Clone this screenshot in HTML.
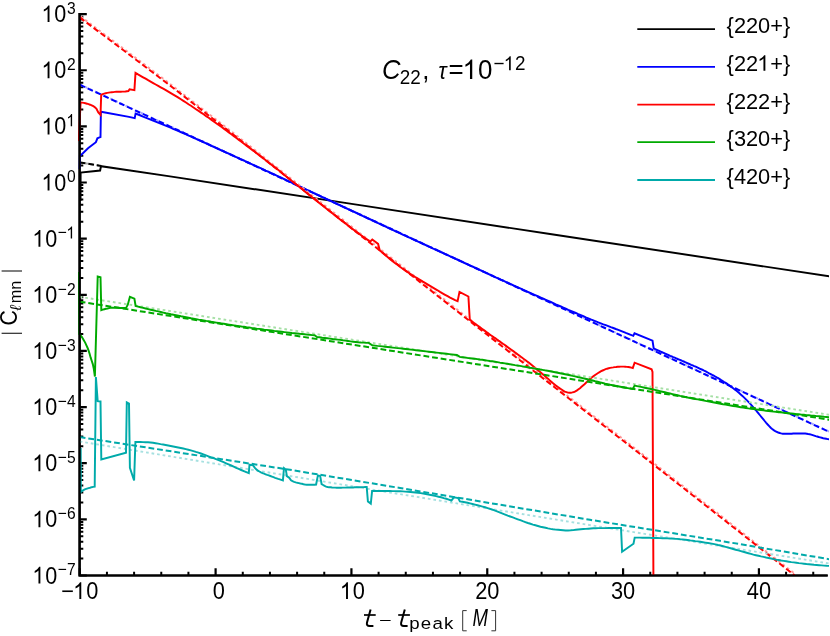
<!DOCTYPE html>
<html><head><meta charset="utf-8"><title>C22 mode amplitudes</title>
<style>html,body{margin:0;padding:0;background:#fff;}svg{display:block;will-change:transform;}text{font-family:"Liberation Sans",sans-serif;fill:#000;}</style></head><body>
<svg width="830" height="636" viewBox="0 0 830 636">
<rect width="830" height="636" fill="#fff"/>
<defs><clipPath id="clip"><rect x="78.0" y="0" width="751.0" height="575.9"/></clipPath></defs>
<g stroke="#000" fill="none" stroke-linecap="butt">
<path d="M79.6 13.1 V575.5 H827.7" stroke-width="2.2" stroke-linejoin="miter"/>
<path d="M79.6 14.10 h7.2 M79.6 70.24 h7.2 M79.6 126.38 h7.2 M79.6 182.52 h7.2 M79.6 238.66 h7.2 M79.6 294.80 h7.2 M79.6 350.94 h7.2 M79.6 407.08 h7.2 M79.6 463.22 h7.2 M79.6 519.36 h7.2 M79.6 575.50 h7.2" stroke-width="2.2"/>
<path d="M79.6 53.34 h3.7 M79.6 43.45 h3.7 M79.6 36.44 h3.7 M79.6 31.00 h3.7 M79.6 26.55 h3.7 M79.6 22.80 h3.7 M79.6 19.54 h3.7 M79.6 16.67 h3.7 M79.6 109.48 h3.7 M79.6 99.59 h3.7 M79.6 92.58 h3.7 M79.6 87.14 h3.7 M79.6 82.69 h3.7 M79.6 78.94 h3.7 M79.6 75.68 h3.7 M79.6 72.81 h3.7 M79.6 165.62 h3.7 M79.6 155.73 h3.7 M79.6 148.72 h3.7 M79.6 143.28 h3.7 M79.6 138.83 h3.7 M79.6 135.08 h3.7 M79.6 131.82 h3.7 M79.6 128.95 h3.7 M79.6 221.76 h3.7 M79.6 211.87 h3.7 M79.6 204.86 h3.7 M79.6 199.42 h3.7 M79.6 194.97 h3.7 M79.6 191.22 h3.7 M79.6 187.96 h3.7 M79.6 185.09 h3.7 M79.6 277.90 h3.7 M79.6 268.01 h3.7 M79.6 261.00 h3.7 M79.6 255.56 h3.7 M79.6 251.11 h3.7 M79.6 247.36 h3.7 M79.6 244.10 h3.7 M79.6 241.23 h3.7 M79.6 334.04 h3.7 M79.6 324.15 h3.7 M79.6 317.14 h3.7 M79.6 311.70 h3.7 M79.6 307.25 h3.7 M79.6 303.50 h3.7 M79.6 300.24 h3.7 M79.6 297.37 h3.7 M79.6 390.18 h3.7 M79.6 380.29 h3.7 M79.6 373.28 h3.7 M79.6 367.84 h3.7 M79.6 363.39 h3.7 M79.6 359.64 h3.7 M79.6 356.38 h3.7 M79.6 353.51 h3.7 M79.6 446.32 h3.7 M79.6 436.43 h3.7 M79.6 429.42 h3.7 M79.6 423.98 h3.7 M79.6 419.53 h3.7 M79.6 415.78 h3.7 M79.6 412.52 h3.7 M79.6 409.65 h3.7 M79.6 502.46 h3.7 M79.6 492.57 h3.7 M79.6 485.56 h3.7 M79.6 480.12 h3.7 M79.6 475.67 h3.7 M79.6 471.92 h3.7 M79.6 468.66 h3.7 M79.6 465.79 h3.7 M79.6 558.60 h3.7 M79.6 548.71 h3.7 M79.6 541.70 h3.7 M79.6 536.26 h3.7 M79.6 531.81 h3.7 M79.6 528.06 h3.7 M79.6 524.80 h3.7 M79.6 521.93 h3.7" stroke-width="2"/>
<path d="M79.77 575.5 v-7.3 M215.60 575.5 v-7.3 M351.43 575.5 v-7.3 M487.26 575.5 v-7.3 M623.09 575.5 v-7.3 M758.92 575.5 v-7.3" stroke-width="2.2"/>
<path d="M106.94 575.5 v-3.7 M134.10 575.5 v-3.7 M161.27 575.5 v-3.7 M188.43 575.5 v-3.7 M242.77 575.5 v-3.7 M269.93 575.5 v-3.7 M297.10 575.5 v-3.7 M324.26 575.5 v-3.7 M378.60 575.5 v-3.7 M405.76 575.5 v-3.7 M432.93 575.5 v-3.7 M460.09 575.5 v-3.7 M514.43 575.5 v-3.7 M541.59 575.5 v-3.7 M568.76 575.5 v-3.7 M595.92 575.5 v-3.7 M650.26 575.5 v-3.7 M677.42 575.5 v-3.7 M704.59 575.5 v-3.7 M731.75 575.5 v-3.7 M786.09 575.5 v-3.7 M813.25 575.5 v-3.7" stroke-width="2"/>
</g>
<g clip-path="url(#clip)" fill="none" stroke-linejoin="miter" stroke-miterlimit="3">
<path d="M79.7 162.4 L101.3 165.9" stroke="#a8a8a8" stroke-width="2.00" stroke-dasharray="2.7 2.9"/>
<path d="M79.7 162.4 L101.3 165.9" stroke="#000000" stroke-width="2.00" stroke-dasharray="5.8 2.9"/>
<path d="M80.5 201.0 L80.6 172.6 L100.1 170.5 L101.0 166.2 L170.0 176.4 L350.0 203.6 L550.0 234.0 L829.2 276.3" stroke="#000000" stroke-width="1.95"/>
<path d="M79.7 84.4 L829.2 431.6" stroke="#a8a8ff" stroke-width="2.00" stroke-dasharray="2.7 2.9"/>
<path d="M79.7 84.7 L829.2 431.9" stroke="#0000ff" stroke-width="2.00" stroke-dasharray="5.8 2.9"/>
<path d="M79.6 169.0 L79.9 155.5 L81.4 154.8 L88.0 148.2 L95.9 142.2 L97.4 138.3 L98.9 137.6 L100.5 137.1 L100.9 111.7 L129.0 116.9 L134.7 118.1 L135.6 113.5 L138.1 114.5 L140.6 115.5 L143.1 116.6 L145.6 117.6 L148.1 118.6 L150.6 119.6 L153.1 120.7 L155.6 121.7 L158.1 122.7 L160.6 123.7 L163.1 124.7 L165.6 125.7 L168.1 126.7 L170.6 127.7 L173.1 128.8 L175.6 129.8 L178.1 130.9 L180.6 132.0 L183.1 133.1 L185.6 134.2 L188.1 135.3 L190.6 136.4 L193.1 137.5 L195.6 138.6 L198.1 139.8 L200.6 140.9 L203.1 142.0 L205.6 143.2 L208.1 144.3 L210.6 145.5 L213.1 146.6 L215.6 147.7 L218.1 148.9 L220.6 150.0 L223.1 151.1 L225.6 152.3 L228.1 153.4 L230.6 154.5 L233.1 155.7 L235.6 156.8 L238.1 157.9 L240.6 159.1 L243.1 160.2 L245.6 161.4 L248.1 162.5 L250.6 163.7 L253.1 164.8 L255.6 165.9 L258.1 167.1 L260.7 168.2 L263.2 169.4 L265.7 170.6 L268.2 171.7 L270.7 172.9 L273.2 174.0 L275.7 175.2 L278.2 176.4 L280.7 177.5 L283.2 178.7 L285.7 179.9 L288.2 181.1 L290.7 182.2 L293.2 183.4 L295.7 184.6 L298.2 185.8 L300.7 187.0 L303.2 188.1 L305.7 189.3 L308.2 190.5 L310.7 191.7 L313.2 192.8 L315.7 194.0 L318.2 195.2 L320.7 196.3 L323.2 197.5 L325.7 198.7 L328.2 199.8 L330.7 201.0 L333.2 202.2 L335.7 203.3 L338.2 204.5 L340.7 205.7 L343.2 206.8 L345.7 208.0 L348.2 209.2 L350.7 210.3 L353.2 211.5 L355.7 212.7 L358.2 213.8 L360.7 215.0 L363.2 216.2 L365.7 217.3 L368.2 218.5 L370.7 219.7 L373.2 220.8 L375.7 222.0 L378.2 223.2 L380.7 224.3 L383.2 225.5 L385.7 226.6 L388.2 227.8 L390.7 229.0 L393.2 230.1 L395.7 231.3 L398.2 232.4 L400.7 233.6 L403.2 234.8 L405.7 235.9 L408.2 237.1 L410.7 238.2 L413.2 239.4 L415.7 240.5 L418.2 241.7 L420.7 242.8 L423.2 244.0 L425.7 245.1 L428.2 246.3 L430.7 247.4 L433.2 248.6 L435.7 249.7 L438.2 250.9 L440.7 252.0 L443.2 253.2 L445.7 254.3 L448.2 255.4 L450.7 256.6 L453.2 257.7 L455.7 258.9 L458.2 260.0 L460.7 261.2 L463.2 262.3 L465.7 263.5 L468.2 264.6 L470.7 265.8 L473.2 266.9 L475.7 268.0 L478.2 269.2 L480.7 270.3 L483.2 271.5 L485.7 272.6 L488.2 273.8 L490.7 275.0 L493.2 276.1 L495.7 277.3 L498.2 278.4 L500.7 279.6 L503.2 280.7 L505.7 281.9 L508.2 283.0 L510.8 284.2 L513.3 285.3 L515.8 286.5 L518.3 287.6 L520.8 288.7 L523.3 289.9 L525.8 291.0 L528.3 292.1 L530.8 293.2 L533.3 294.3 L535.8 295.4 L538.3 296.5 L540.8 297.6 L543.3 298.7 L545.8 299.8 L548.3 300.9 L550.8 302.0 L553.3 303.1 L555.8 304.3 L558.3 305.4 L560.8 306.5 L563.3 307.6 L565.8 308.7 L568.3 309.8 L570.8 310.8 L573.3 311.9 L575.8 313.0 L578.3 314.1 L580.8 315.1 L583.3 316.2 L585.8 317.3 L588.3 318.3 L590.8 319.4 L593.3 320.4 L595.8 321.4 L598.3 322.4 L600.8 323.3 L603.3 324.3 L605.8 325.2 L608.3 326.1 L610.8 327.1 L613.3 328.0 L615.8 329.0 L618.3 329.9 L620.8 330.9 L623.3 331.9 L625.8 332.9 L628.3 333.8 L630.8 334.8 L633.3 335.8 L634.5 333.3 L652.5 340.6 L653.7 348.4 L655.2 349.1 L656.7 349.8 L658.2 350.5 L659.7 351.1 L661.2 351.8 L662.7 352.5 L664.2 353.1 L665.7 353.8 L667.2 354.5 L668.7 355.1 L670.2 355.8 L671.7 356.4 L673.2 357.1 L674.7 357.7 L676.2 358.3 L677.7 359.0 L679.2 359.6 L680.7 360.2 L682.2 360.9 L683.7 361.5 L685.2 362.2 L686.7 362.8 L688.2 363.5 L689.7 364.1 L691.2 364.8 L692.7 365.4 L694.2 366.1 L695.7 366.7 L697.2 367.4 L698.7 368.1 L700.2 368.8 L701.7 369.5 L703.2 370.2 L704.7 371.0 L706.2 371.7 L707.7 372.5 L709.2 373.3 L710.7 374.0 L712.2 374.9 L713.7 375.7 L715.2 376.5 L716.7 377.4 L718.2 378.2 L719.7 379.1 L721.2 380.1 L722.7 381.0 L724.2 382.0 L725.7 382.9 L727.2 383.9 L728.7 385.0 L730.2 386.1 L731.7 387.2 L733.2 388.3 L734.7 389.4 L736.2 390.6 L737.7 391.8 L739.2 393.1 L740.7 394.4 L742.2 395.7 L743.7 397.1 L745.2 398.6 L746.7 400.1 L748.2 401.6 L749.7 403.2 L751.2 404.9 L752.7 406.6 L754.2 408.3 L755.7 410.0 L757.2 411.8 L758.7 413.7 L760.2 415.5 L761.7 417.3 L763.2 419.1 L764.7 421.0 L766.2 422.8 L767.7 424.5 L769.2 426.1 L770.7 427.7 L772.2 429.0 L773.7 430.1 L775.2 431.1 L776.7 431.8 L778.2 432.5 L779.7 433.0 L781.2 433.4 L782.7 433.7 L784.2 433.8 L785.7 433.8 L787.2 433.8 L788.7 433.8 L790.2 433.8 L791.7 433.7 L793.2 433.5 L794.7 433.4 L796.2 433.4 L797.7 433.4 L799.2 433.4 L800.7 433.4 L802.2 433.4 L803.7 433.4 L805.2 433.5 L806.7 433.7 L808.2 434.0 L809.7 434.2 L811.2 434.6 L812.7 435.1 L814.2 435.6 L815.7 436.1 L817.2 436.5 L818.7 437.0 L820.2 437.4 L821.7 437.8 L823.2 438.2 L824.7 438.5 L826.2 438.8 L827.7 439.1 L829.2 439.4" stroke="#0000ff" stroke-width="1.95"/>
<path d="M80.6 16.5 L125.1 49.9 L167.3 81.8 L230.9 131.1 L310.1 193.8 L356.4 230.5 L469.0 318.9 L630.9 445.2 L795.5 574.4" stroke="#ff9a9a" stroke-width="2.00" stroke-dasharray="2.7 2.9"/>
<path d="M79.7 17.4 L124.2 50.8 L166.4 82.7 L230.0 132.0 L309.2 194.7 L355.5 231.4 L468.1 319.8 L630.0 446.1 L794.6 575.3" stroke="#ff0000" stroke-width="2.00" stroke-dasharray="5.8 2.9"/>
<path d="M78.7 141.0 L80.6 102.4 L80.6 102.4 L82.2 102.6 L83.8 102.9 L85.4 103.3 L87.0 103.7 L88.5 104.2 L90.1 104.7 L91.7 105.4 L93.3 106.2 L94.9 107.3 L96.5 108.8 L98.3 112.4 L100.5 114.8 L101.2 94.9 L102.7 94.1 L104.2 93.6 L105.7 93.2 L107.2 92.9 L108.8 92.6 L110.3 92.4 L111.8 92.2 L113.3 92.1 L114.8 91.9 L116.3 91.8 L117.8 91.7 L119.3 91.7 L120.8 91.7 L122.4 91.6 L123.9 91.6 L125.4 91.5 L126.9 91.3 L128.4 91.1 L129.6 89.3 L134.4 90.1 L135.5 72.9 L138.0 74.4 L140.5 75.8 L143.1 77.3 L145.6 78.7 L148.1 80.2 L150.6 81.6 L153.2 83.1 L155.7 84.5 L158.2 85.9 L160.7 87.3 L163.2 88.7 L165.8 90.1 L168.3 91.6 L170.8 93.1 L173.3 94.6 L175.9 96.2 L178.4 97.7 L180.9 99.3 L183.4 100.9 L186.0 102.5 L188.5 104.2 L191.0 105.8 L193.5 107.5 L196.0 109.2 L198.6 110.9 L201.1 112.6 L203.6 114.3 L206.1 116.1 L208.7 117.8 L211.2 119.6 L213.7 121.4 L216.2 123.2 L218.7 125.0 L221.3 126.8 L223.8 128.6 L226.3 130.5 L228.8 132.4 L231.4 134.2 L233.9 136.1 L236.4 138.0 L238.9 139.9 L241.4 141.8 L244.0 143.7 L246.5 145.6 L249.0 147.5 L251.5 149.4 L254.1 151.3 L256.6 153.2 L259.1 155.1 L261.6 157.0 L264.2 159.0 L266.7 160.9 L269.2 162.9 L271.7 164.9 L274.2 166.8 L276.8 168.8 L279.3 170.8 L281.8 172.8 L284.3 174.9 L286.9 176.9 L289.4 178.9 L291.9 180.9 L294.4 183.0 L296.9 185.0 L299.5 187.1 L302.0 189.1 L304.5 191.2 L307.0 193.2 L309.6 195.3 L312.1 197.3 L314.6 199.3 L317.1 201.3 L319.6 203.3 L322.2 205.3 L324.7 207.3 L327.2 209.3 L329.7 211.3 L332.3 213.3 L334.8 215.2 L337.3 217.2 L339.8 219.2 L342.4 221.1 L344.9 223.1 L347.4 225.0 L349.9 226.9 L352.4 228.9 L355.0 230.8 L357.5 232.6 L360.0 234.5 L362.5 236.3 L365.1 238.1 L367.6 239.9 L370.1 241.7 L372.3 239.5 L378.1 243.9 L379.8 250.4 L382.3 252.6 L384.8 254.7 L387.3 256.8 L389.8 258.9 L392.3 260.9 L394.9 262.9 L397.4 264.8 L399.9 266.7 L402.4 268.5 L404.9 270.2 L407.4 271.9 L409.9 273.6 L412.4 275.2 L414.9 276.8 L417.4 278.3 L420.0 279.8 L422.5 281.4 L425.0 282.8 L427.5 284.3 L430.0 285.8 L432.5 287.3 L435.0 288.8 L437.5 290.3 L440.0 291.9 L442.5 293.3 L445.1 294.8 L447.6 296.2 L450.1 297.6 L452.6 298.8 L455.1 300.1 L457.6 301.2 L459.5 291.9 L468.4 296.5 L469.8 319.8 L471.3 320.9 L472.8 322.0 L474.3 323.2 L475.8 324.3 L477.3 325.4 L478.9 326.5 L480.4 327.6 L481.9 328.7 L483.4 329.8 L484.9 330.9 L486.4 332.0 L487.9 333.1 L489.4 334.2 L490.9 335.3 L492.4 336.3 L493.9 337.4 L495.5 338.4 L497.0 339.5 L498.5 340.6 L500.0 341.6 L501.5 342.7 L503.0 343.8 L504.5 344.8 L506.0 345.9 L507.5 347.0 L509.0 348.1 L510.6 349.2 L512.1 350.3 L513.6 351.4 L515.1 352.5 L516.6 353.6 L518.1 354.7 L519.6 355.8 L521.1 356.9 L522.6 358.1 L524.1 359.2 L525.6 360.3 L527.2 361.5 L528.7 362.6 L530.2 363.8 L531.7 365.0 L533.2 366.2 L534.7 367.4 L536.2 368.7 L537.7 370.0 L539.2 371.2 L540.7 372.5 L542.2 373.8 L543.8 375.1 L545.3 376.4 L546.8 377.8 L548.3 379.1 L549.8 380.4 L551.3 381.7 L552.8 383.0 L554.3 384.2 L555.8 385.4 L557.3 386.6 L558.8 387.7 L560.4 388.7 L561.9 389.7 L563.4 390.8 L564.9 391.6 L566.4 392.1 L567.9 392.6 L569.4 392.8 L570.9 392.7 L572.4 392.4 L573.9 392.0 L575.4 391.4 L577.0 390.4 L578.5 389.3 L580.0 388.2 L581.5 386.8 L583.0 385.5 L584.5 384.2 L586.0 382.8 L587.5 381.4 L589.0 380.0 L590.5 378.6 L592.0 377.3 L593.6 376.1 L595.1 375.0 L596.6 374.0 L598.1 373.0 L599.6 372.1 L601.1 371.2 L602.6 370.5 L604.1 369.8 L605.6 369.2 L607.1 368.7 L608.7 368.3 L610.2 367.9 L611.7 367.6 L613.2 367.4 L614.7 367.1 L616.2 367.0 L617.7 366.8 L619.2 366.7 L620.7 366.6 L622.2 366.6 L623.7 366.6 L625.3 366.7 L626.8 366.9 L628.3 367.0 L629.8 367.3 L631.3 367.6 L632.8 368.0 L634.6 362.7 L651.6 369.3 L652.5 372.0 L653.4 575.3" stroke="#ff0000" stroke-width="1.95"/>
<path d="M79.7 296.8 L829.2 414.8" stroke="#a6e0a6" stroke-width="1.90" stroke-dasharray="2.7 2.9"/>
<path d="M79.7 301.7 L829.2 419.7" stroke="#00aa00" stroke-width="2.00" stroke-dasharray="5.8 2.9"/>
<path d="M78.9 272.0 L79.2 334.0 L81.0 335.8 L82.1 337.3 L83.1 339.1 L84.2 340.9 L85.3 342.9 L86.3 345.1 L87.4 347.5 L88.5 350.4 L89.6 353.8 L90.6 357.4 L91.7 360.8 L92.8 364.1 L93.8 368.8 L94.9 376.5 L97.7 276.6 L100.5 277.3 L101.3 310.1 L101.3 310.1 L102.8 309.6 L104.4 309.2 L105.9 308.8 L107.5 308.5 L109.0 308.1 L110.6 307.8 L112.1 307.7 L113.7 307.7 L115.2 307.7 L116.7 307.8 L118.3 307.8 L119.8 307.9 L121.4 307.9 L122.9 308.0 L124.5 308.0 L126.0 308.1 L127.8 304.7 L129.9 296.8 L134.4 298.7 L135.6 306.0 L135.6 306.0 L138.1 306.6 L140.6 307.3 L143.2 307.9 L145.7 308.5 L148.2 309.1 L150.7 309.7 L153.2 310.3 L155.8 310.9 L158.3 311.4 L160.8 312.0 L163.3 312.6 L165.9 313.2 L168.4 313.7 L170.9 314.3 L173.4 314.8 L175.9 315.3 L178.5 315.8 L181.0 316.3 L183.5 316.7 L186.0 317.2 L188.5 317.7 L191.1 318.2 L193.6 318.6 L196.1 319.1 L198.6 319.6 L201.1 320.0 L203.7 320.4 L206.2 320.9 L208.7 321.3 L211.2 321.8 L213.8 322.2 L216.3 322.6 L218.8 323.0 L221.3 323.4 L223.8 323.8 L226.4 324.2 L228.9 324.6 L231.4 325.0 L233.9 325.4 L236.4 325.8 L239.0 326.1 L241.5 326.5 L244.0 326.8 L246.5 327.2 L249.1 327.5 L251.6 327.9 L254.1 328.2 L256.6 328.6 L259.1 328.9 L261.7 329.2 L264.2 329.6 L266.7 329.9 L269.2 330.2 L271.7 330.5 L274.3 330.9 L276.8 331.2 L279.3 331.5 L281.8 331.8 L284.3 332.1 L286.9 332.4 L289.4 332.7 L291.9 333.0 L294.4 333.2 L297.0 333.5 L299.5 333.8 L302.0 334.0 L304.5 334.3 L307.0 334.6 L309.6 334.8 L312.1 335.1 L314.6 335.3 L317.0 337.0 L319.6 337.3 L322.2 337.7 L324.8 338.0 L327.3 338.3 L329.9 338.6 L332.5 339.0 L335.1 339.3 L337.7 339.6 L340.3 339.9 L342.9 340.3 L345.4 340.6 L348.0 341.0 L350.6 341.4 L353.2 341.7 L355.8 342.0 L358.4 342.3 L360.9 342.5 L363.5 342.6 L366.1 342.8 L368.7 342.9 L372.3 345.3 L374.9 345.6 L377.4 345.9 L380.0 346.1 L382.6 346.4 L385.1 346.7 L387.7 347.0 L390.2 347.3 L392.8 347.6 L395.4 347.9 L397.9 348.1 L400.5 348.4 L403.1 348.7 L405.6 349.0 L408.2 349.3 L410.8 349.6 L413.3 349.9 L415.9 350.2 L418.4 350.5 L421.0 350.8 L423.6 351.1 L426.1 351.4 L428.7 351.7 L431.3 352.0 L433.8 352.3 L436.4 352.6 L439.0 352.9 L441.5 353.2 L444.1 353.5 L446.6 353.8 L449.2 354.1 L451.8 354.4 L454.3 354.7 L456.9 355.0 L459.8 356.9 L462.3 357.2 L464.8 357.5 L467.3 357.9 L469.8 358.2 L472.3 358.5 L474.8 358.8 L477.4 359.1 L479.9 359.5 L482.4 359.8 L484.9 360.2 L487.4 360.6 L489.9 361.0 L492.4 361.3 L494.9 361.7 L497.4 362.1 L499.9 362.6 L502.4 363.0 L504.9 363.4 L507.4 363.8 L509.9 364.2 L512.5 364.6 L515.0 365.1 L517.5 365.5 L520.0 365.9 L522.5 366.4 L525.0 366.8 L527.5 367.2 L530.0 367.7 L532.5 368.1 L535.0 368.6 L537.5 369.0 L540.0 369.5 L542.5 369.9 L545.0 370.4 L547.6 370.8 L550.1 371.3 L552.6 371.8 L555.1 372.3 L557.6 372.8 L560.1 373.3 L562.6 373.8 L565.1 374.3 L567.6 374.8 L570.1 375.3 L572.6 375.9 L575.1 376.4 L577.6 377.0 L580.1 377.5 L582.7 378.1 L585.2 378.7 L587.7 379.3 L590.2 379.9 L592.7 380.5 L595.2 381.2 L597.7 381.8 L600.2 382.4 L602.7 383.0 L605.2 383.6 L607.7 384.1 L610.2 384.7 L612.7 385.2 L615.2 385.7 L617.8 386.2 L620.3 386.7 L622.8 387.2 L625.3 387.7 L627.8 388.1 L630.3 388.6 L632.8 389.0 L634.6 385.6 L637.1 386.1 L639.7 386.6 L642.2 387.1 L644.7 387.7 L647.2 388.2 L649.8 388.7 L652.3 389.3 L654.8 389.9 L657.3 390.5 L659.9 391.1 L662.4 391.7 L664.9 392.3 L667.5 392.9 L670.0 393.5 L672.5 394.1 L675.0 394.7 L677.6 395.3 L680.1 395.9 L682.6 396.4 L685.1 396.9 L687.7 397.5 L690.2 398.0 L692.7 398.5 L695.3 399.0 L697.8 399.4 L700.3 399.9 L702.8 400.4 L705.4 400.9 L707.9 401.4 L710.4 401.8 L712.9 402.3 L715.5 402.8 L718.0 403.3 L720.5 403.7 L723.1 404.2 L725.6 404.6 L728.1 405.1 L730.6 405.5 L733.2 406.0 L735.7 406.4 L738.2 406.8 L740.7 407.2 L743.3 407.6 L745.8 408.0 L748.3 408.4 L750.9 408.7 L753.4 409.1 L755.9 409.4 L758.4 409.8 L761.0 410.1 L763.5 410.4 L766.0 410.7 L768.5 411.0 L771.1 411.3 L773.6 411.6 L776.1 411.9 L778.7 412.2 L781.2 412.4 L783.7 412.7 L786.2 413.0 L788.8 413.3 L791.3 413.5 L793.8 413.8 L796.3 414.1 L798.9 414.3 L801.4 414.6 L803.9 414.8 L806.5 415.1 L809.0 415.3 L811.5 415.6 L814.0 415.8 L816.6 416.1 L819.1 416.3 L821.6 416.5 L824.1 416.8 L826.7 417.0 L829.2 417.2" stroke="#00aa00" stroke-width="1.95"/>
<path d="M79.7 441.5 L282.8 474.8 L390.0 492.5 L590.0 525.1 L829.2 563.5" stroke="#a6e0e0" stroke-width="1.90" stroke-dasharray="2.7 2.9"/>
<path d="M79.7 437.1 L290.0 469.8 L400.0 488.0 L590.0 519.8 L720.0 540.8 L829.2 559.2" stroke="#00aaaa" stroke-width="2.00" stroke-dasharray="5.8 2.9"/>
<path d="M80.7 448.0 L80.8 492.0 L80.8 492.0 L82.3 490.8 L83.9 489.9 L85.4 489.2 L87.0 488.6 L88.5 488.1 L90.1 487.7 L91.6 487.2 L93.2 486.9 L94.7 486.6 L95.9 377.1 L97.7 401.2 L100.5 401.5 L101.3 459.4 L126.0 452.7 L126.8 402.4 L129.0 403.6 L129.9 467.8 L134.1 480.5 L135.4 441.9 L137.9 441.9 L140.4 442.0 L143.0 442.1 L145.5 442.2 L148.0 442.3 L150.5 442.5 L153.0 442.8 L155.6 443.2 L158.1 443.6 L160.6 444.1 L163.1 444.5 L165.6 445.0 L168.2 445.5 L170.7 446.0 L173.2 446.5 L175.7 447.0 L178.2 447.5 L180.8 448.0 L183.3 448.5 L185.8 449.1 L188.3 449.7 L190.8 450.4 L193.4 451.1 L195.9 451.9 L198.4 452.6 L200.9 453.5 L203.4 454.4 L206.0 455.3 L208.5 456.3 L211.0 457.3 L213.5 458.2 L216.0 459.2 L218.6 460.2 L221.1 461.2 L223.6 462.2 L226.1 463.3 L228.6 464.4 L231.2 465.5 L233.7 466.6 L236.2 467.8 L238.7 468.9 L241.2 470.0 L243.8 471.1 L246.3 472.1 L248.8 473.1 L249.5 464.7 L253.1 465.4 L253.1 465.4 L254.7 467.6 L256.2 469.4 L257.8 470.6 L259.4 471.5 L260.9 472.3 L262.5 473.1 L264.1 473.7 L265.6 474.3 L267.2 474.9 L268.8 475.4 L270.4 476.0 L271.9 476.6 L273.5 477.2 L275.1 477.8 L276.6 478.3 L278.2 478.9 L279.8 479.4 L281.3 479.9 L282.9 480.4 L284.0 468.2 L285.8 469.6 L286.9 476.1 L289.4 477.9 L289.4 477.9 L291.0 480.3 L292.5 481.2 L294.1 481.9 L295.7 482.4 L297.3 482.8 L298.8 483.1 L300.4 483.5 L302.0 483.8 L303.5 484.2 L305.1 484.5 L306.7 484.7 L308.2 484.8 L309.8 484.8 L311.4 484.8 L313.0 484.7 L314.5 484.7 L316.1 484.5 L317.9 475.4 L320.2 476.1 L321.6 484.1 L321.6 484.1 L323.1 485.0 L324.6 485.9 L326.1 486.6 L327.6 487.0 L329.1 487.2 L330.6 487.3 L332.1 487.5 L333.6 487.6 L335.1 487.6 L336.6 487.7 L338.1 487.7 L339.6 487.7 L341.1 487.7 L342.6 487.6 L344.1 487.6 L345.7 487.6 L347.2 487.5 L348.7 487.5 L350.2 487.5 L351.7 487.4 L353.2 487.4 L354.7 487.3 L356.2 487.3 L357.7 487.3 L359.2 487.2 L360.7 487.2 L362.2 487.1 L363.7 487.1 L365.2 487.0 L366.7 487.0 L367.9 501.4 L370.8 503.6 L372.1 490.9 L372.1 490.9 L374.7 490.9 L377.2 490.9 L379.8 490.9 L382.3 490.9 L384.9 490.9 L387.4 491.0 L390.0 491.0 L392.6 491.1 L395.1 491.1 L397.7 491.2 L400.2 491.3 L402.8 491.4 L405.4 491.6 L407.9 491.8 L410.5 492.0 L413.0 492.2 L415.6 492.5 L418.1 492.8 L420.7 493.1 L423.3 493.5 L425.8 494.0 L428.4 494.5 L430.9 495.0 L433.5 495.5 L436.1 496.1 L438.6 496.7 L441.2 497.3 L443.7 498.1 L446.3 498.8 L448.8 499.6 L451.4 500.5 L453.9 497.3 L458.2 498.1 L459.9 501.4 L459.9 501.4 L462.4 501.8 L464.9 502.3 L467.5 502.8 L470.0 503.4 L472.5 504.0 L475.0 504.6 L477.5 505.2 L480.0 505.9 L482.6 506.6 L485.1 507.3 L487.6 508.1 L490.1 508.9 L492.6 509.7 L495.1 510.7 L497.7 511.6 L500.2 512.6 L502.7 513.6 L505.2 514.6 L507.7 515.6 L510.2 516.5 L512.8 517.4 L515.3 518.4 L517.8 519.3 L520.3 520.2 L522.8 521.2 L525.3 522.1 L527.9 523.0 L530.4 523.8 L532.9 524.6 L535.4 525.3 L537.9 526.0 L540.5 526.7 L543.0 527.2 L545.5 527.8 L548.0 528.4 L550.5 528.9 L553.0 529.3 L555.6 529.6 L558.1 529.8 L560.6 530.0 L563.1 530.2 L565.6 530.4 L568.1 530.4 L570.7 530.3 L573.2 530.1 L575.7 529.8 L578.2 529.5 L580.7 529.2 L583.2 529.0 L585.8 528.9 L588.3 528.7 L590.8 528.5 L593.3 528.3 L595.8 528.2 L598.3 528.1 L600.9 528.1 L603.4 528.1 L605.9 528.1 L608.4 528.0 L610.9 528.0 L613.4 528.0 L616.0 528.0 L618.5 528.0 L621.0 528.0 L622.1 551.7 L633.5 543.7 L634.7 537.6 L634.7 537.6 L637.2 537.6 L639.8 537.6 L642.3 537.7 L644.8 537.7 L647.3 537.7 L649.9 537.8 L652.4 537.9 L654.9 537.9 L657.4 538.0 L660.0 538.1 L662.5 538.2 L665.0 538.3 L667.5 538.4 L670.1 538.5 L672.6 538.6 L675.1 538.8 L677.6 538.9 L680.2 539.2 L682.7 539.4 L685.2 539.7 L687.7 540.0 L690.3 540.4 L692.8 540.7 L695.3 541.1 L697.8 541.4 L700.4 541.8 L702.9 542.2 L705.4 542.6 L708.0 543.0 L710.5 543.4 L713.0 543.9 L715.5 544.4 L718.1 545.0 L720.6 545.5 L723.1 546.2 L725.6 546.9 L728.2 547.6 L730.7 548.3 L733.2 549.0 L735.7 549.7 L738.3 550.4 L740.8 551.1 L743.3 551.8 L745.8 552.5 L748.4 553.2 L750.9 553.9 L753.4 554.6 L755.9 555.2 L758.5 555.8 L761.0 556.4 L763.5 556.9 L766.1 557.5 L768.6 558.0 L771.1 558.5 L773.6 559.1 L776.2 559.6 L778.7 560.0 L781.2 560.5 L783.7 560.9 L786.3 561.3 L788.8 561.7 L791.3 562.1 L793.8 562.4 L796.4 562.7 L798.9 563.1 L801.4 563.4 L803.9 563.7 L806.5 564.0 L809.0 564.2 L811.5 564.5 L814.0 564.8 L816.6 565.0 L819.1 565.2 L821.6 565.4 L824.1 565.6 L826.7 565.8 L829.2 565.9" stroke="#00aaaa" stroke-width="1.95"/>
</g>
<path d="M79.6 13.1 V575.5 H827.7" stroke="#000" fill="none" stroke-width="2.2" stroke-linejoin="miter"/>
<text transform="translate(75.60 13.90) scale(0.930 1)" font-size="16.80" text-anchor="end">3</text>
<g transform="translate(66.31 22.10) scale(0.930 1)">
<path transform="translate(-26.73 0) scale(0.01133 -0.01133)" d="M763 0H583V1147Q518 1085 412.5 1023T223 930V1104Q374 1175 487 1276T647 1472H763Z" fill="#000"/>
<text x="-12.90" y="0" font-size="23.20">0</text>
</g>
<text transform="translate(75.60 70.04) scale(0.930 1)" font-size="16.80" text-anchor="end">2</text>
<g transform="translate(66.31 78.24) scale(0.930 1)">
<path transform="translate(-26.73 0) scale(0.01133 -0.01133)" d="M763 0H583V1147Q518 1085 412.5 1023T223 930V1104Q374 1175 487 1276T647 1472H763Z" fill="#000"/>
<text x="-12.90" y="0" font-size="23.20">0</text>
</g>
<g transform="translate(75.60 126.18) scale(0.930 1)">
<path transform="translate(-10.01 0) scale(0.00820 -0.00820)" d="M763 0H583V1147Q518 1085 412.5 1023T223 930V1104Q374 1175 487 1276T647 1472H763Z" fill="#000"/>
</g>
<g transform="translate(66.31 134.38) scale(0.930 1)">
<path transform="translate(-26.73 0) scale(0.01133 -0.01133)" d="M763 0H583V1147Q518 1085 412.5 1023T223 930V1104Q374 1175 487 1276T647 1472H763Z" fill="#000"/>
<text x="-12.90" y="0" font-size="23.20">0</text>
</g>
<text transform="translate(75.60 182.32) scale(0.930 1)" font-size="16.80" text-anchor="end">0</text>
<g transform="translate(66.31 190.52) scale(0.930 1)">
<path transform="translate(-26.73 0) scale(0.01133 -0.01133)" d="M763 0H583V1147Q518 1085 412.5 1023T223 930V1104Q374 1175 487 1276T647 1472H763Z" fill="#000"/>
<text x="-12.90" y="0" font-size="23.20">0</text>
</g>
<g transform="translate(75.60 238.46) scale(0.930 1)">
<text x="-19.15" y="0" font-size="16.80">−</text>
<path transform="translate(-10.01 0) scale(0.00820 -0.00820)" d="M763 0H583V1147Q518 1085 412.5 1023T223 930V1104Q374 1175 487 1276T647 1472H763Z" fill="#000"/>
</g>
<g transform="translate(57.19 246.66) scale(0.930 1)">
<path transform="translate(-26.73 0) scale(0.01133 -0.01133)" d="M763 0H583V1147Q518 1085 412.5 1023T223 930V1104Q374 1175 487 1276T647 1472H763Z" fill="#000"/>
<text x="-12.90" y="0" font-size="23.20">0</text>
</g>
<text transform="translate(75.60 294.60) scale(0.930 1)" font-size="16.80" text-anchor="end">−2</text>
<g transform="translate(57.19 302.80) scale(0.930 1)">
<path transform="translate(-26.73 0) scale(0.01133 -0.01133)" d="M763 0H583V1147Q518 1085 412.5 1023T223 930V1104Q374 1175 487 1276T647 1472H763Z" fill="#000"/>
<text x="-12.90" y="0" font-size="23.20">0</text>
</g>
<text transform="translate(75.60 350.74) scale(0.930 1)" font-size="16.80" text-anchor="end">−3</text>
<g transform="translate(57.19 358.94) scale(0.930 1)">
<path transform="translate(-26.73 0) scale(0.01133 -0.01133)" d="M763 0H583V1147Q518 1085 412.5 1023T223 930V1104Q374 1175 487 1276T647 1472H763Z" fill="#000"/>
<text x="-12.90" y="0" font-size="23.20">0</text>
</g>
<text transform="translate(75.60 406.88) scale(0.930 1)" font-size="16.80" text-anchor="end">−4</text>
<g transform="translate(57.19 415.08) scale(0.930 1)">
<path transform="translate(-26.73 0) scale(0.01133 -0.01133)" d="M763 0H583V1147Q518 1085 412.5 1023T223 930V1104Q374 1175 487 1276T647 1472H763Z" fill="#000"/>
<text x="-12.90" y="0" font-size="23.20">0</text>
</g>
<text transform="translate(75.60 463.02) scale(0.930 1)" font-size="16.80" text-anchor="end">−5</text>
<g transform="translate(57.19 471.22) scale(0.930 1)">
<path transform="translate(-26.73 0) scale(0.01133 -0.01133)" d="M763 0H583V1147Q518 1085 412.5 1023T223 930V1104Q374 1175 487 1276T647 1472H763Z" fill="#000"/>
<text x="-12.90" y="0" font-size="23.20">0</text>
</g>
<text transform="translate(75.60 519.16) scale(0.930 1)" font-size="16.80" text-anchor="end">−6</text>
<g transform="translate(57.19 527.36) scale(0.930 1)">
<path transform="translate(-26.73 0) scale(0.01133 -0.01133)" d="M763 0H583V1147Q518 1085 412.5 1023T223 930V1104Q374 1175 487 1276T647 1472H763Z" fill="#000"/>
<text x="-12.90" y="0" font-size="23.20">0</text>
</g>
<text transform="translate(75.60 575.30) scale(0.930 1)" font-size="16.80" text-anchor="end">−7</text>
<g transform="translate(57.19 583.50) scale(0.930 1)">
<path transform="translate(-26.73 0) scale(0.01133 -0.01133)" d="M763 0H583V1147Q518 1085 412.5 1023T223 930V1104Q374 1175 487 1276T647 1472H763Z" fill="#000"/>
<text x="-12.90" y="0" font-size="23.20">0</text>
</g>
<g transform="translate(79.77 599.00) scale(0.940 1)">
<text x="-19.67" y="0" font-size="23.20">−</text>
<path transform="translate(-7.05 0) scale(0.01133 -0.01133)" d="M763 0H583V1147Q518 1085 412.5 1023T223 930V1104Q374 1175 487 1276T647 1472H763Z" fill="#000"/>
<text x="6.77" y="0" font-size="23.20">0</text>
</g>
<text transform="translate(218.90 599.00) scale(0.940 1)" font-size="23.20" text-anchor="middle">0</text>
<g transform="translate(352.83 599.00) scale(0.940 1)">
<path transform="translate(-13.83 0) scale(0.01133 -0.01133)" d="M763 0H583V1147Q518 1085 412.5 1023T223 930V1104Q374 1175 487 1276T647 1472H763Z" fill="#000"/>
<text x="0.00" y="0" font-size="23.20">0</text>
</g>
<text transform="translate(487.26 599.00) scale(0.940 1)" font-size="23.20" text-anchor="middle">20</text>
<text transform="translate(623.09 599.00) scale(0.940 1)" font-size="23.20" text-anchor="middle">30</text>
<text transform="translate(758.92 599.00) scale(0.940 1)" font-size="23.20" text-anchor="middle">40</text>
<path d="M637.3 29.1 H715" stroke="#000000" stroke-width="1.8" fill="none"/>
<text transform="translate(726.60 33.10) scale(1.000 1)" font-size="21.80" text-anchor="start">{220+}</text>
<path d="M637.3 66.8 H715" stroke="#0000ff" stroke-width="1.8" fill="none"/>
<g transform="translate(726.60 70.80) scale(1.000 1)">
<text x="0.00" y="0" font-size="21.80">{22</text>
<path transform="translate(30.65 0) scale(0.01064 -0.01064)" d="M763 0H583V1147Q518 1085 412.5 1023T223 930V1104Q374 1175 487 1276T647 1472H763Z" fill="#000"/>
<text x="43.64" y="0" font-size="21.80">+}</text>
</g>
<path d="M637.3 104.7 H715" stroke="#ff0000" stroke-width="1.8" fill="none"/>
<text transform="translate(726.60 108.70) scale(1.000 1)" font-size="21.80" text-anchor="start">{222+}</text>
<path d="M637.3 142.2 H715" stroke="#00aa00" stroke-width="1.8" fill="none"/>
<text transform="translate(726.60 146.20) scale(1.000 1)" font-size="21.80" text-anchor="start">{320+}</text>
<path d="M637.3 180.0 H715" stroke="#00aaaa" stroke-width="1.8" fill="none"/>
<text transform="translate(726.60 184.00) scale(1.000 1)" font-size="21.80" text-anchor="start">{420+}</text>
<g>
<text transform="translate(382.00 79.00) scale(0.950 1)" font-size="27.00" text-anchor="start"><tspan font-style="italic">C</tspan></text>
<text transform="translate(399.80 84.30) scale(0.970 1)" font-size="19.50" text-anchor="start">22</text>
<text transform="translate(422.20 79.00) scale(0.950 1)" font-size="27.00" text-anchor="start">,</text>
<text transform="translate(438.60 79.00) scale(0.900 1)" font-size="24.00" text-anchor="start"><tspan font-style="italic">τ</tspan></text>
<g transform="translate(448.50 79.00) scale(0.960 1)">
<text x="0.00" y="0" font-size="27.00">=</text>
<path transform="translate(14.69 0) scale(0.01318 -0.01318)" d="M763 0H583V1147Q518 1085 412.5 1023T223 930V1104Q374 1175 487 1276T647 1472H763Z" fill="#000"/>
<text x="30.78" y="0" font-size="27.00">0</text>
</g>
<g transform="translate(493.40 70.20) scale(0.970 1)">
<text x="0.00" y="0" font-size="19.50">−</text>
<path transform="translate(10.61 0) scale(0.00952 -0.00952)" d="M763 0H583V1147Q518 1085 412.5 1023T223 930V1104Q374 1175 487 1276T647 1472H763Z" fill="#000"/>
<text x="22.23" y="0" font-size="19.50">2</text>
</g>
</g>
<g fill="none" stroke="#000">
<path d="M370.6 609.6 L367.0 622.6 Q366.2 625.9 369.6 625.9 L373.4 625.9" stroke-width="2.0"/>
<path d="M364.0 615.0 H375.7" stroke-width="1.7"/>
<path d="M404.8 609.6 L401.2 622.6 Q400.4 625.9 403.8 625.9 L407.6 625.9" stroke-width="2.0"/>
<path d="M398.2 615.0 H409.9" stroke-width="1.7"/>
<path d="M380.1 620.5 H390.6" stroke-width="1.0"/>
<path d="M466.7 610.6 H462.7 V630.8 H466.7 M491.4 610.6 H495.6 V630.8 H491.4" stroke="#333" stroke-width="1.0"/>
</g>
<text transform="translate(409.20 629.20) scale(1.080 1)" font-size="17.30" text-anchor="start" letter-spacing="1.15">peak</text>
<text transform="translate(472.40 626.10) scale(0.800 1)" font-size="23.20" text-anchor="start"><tspan font-style="italic">M</tspan></text>
<g transform="translate(17.2 0) rotate(-90)">
<path d="M-333.3 -15.6 V4.8 M-271 -15.6 V4.8" stroke="#000" stroke-width="1.05" fill="none"/>
<text x="-325.6" y="0.2" font-size="23.5" textLength="15.4" lengthAdjust="spacingAndGlyphs">C</text>
<text x="-310.6" y="4" font-size="16" font-style="italic" font-family="Liberation Serif">ℓ</text>
<text x="-303.2" y="4" font-size="16.5" textLength="22.6" lengthAdjust="spacingAndGlyphs">mn</text>
</g>
</svg></body></html>
